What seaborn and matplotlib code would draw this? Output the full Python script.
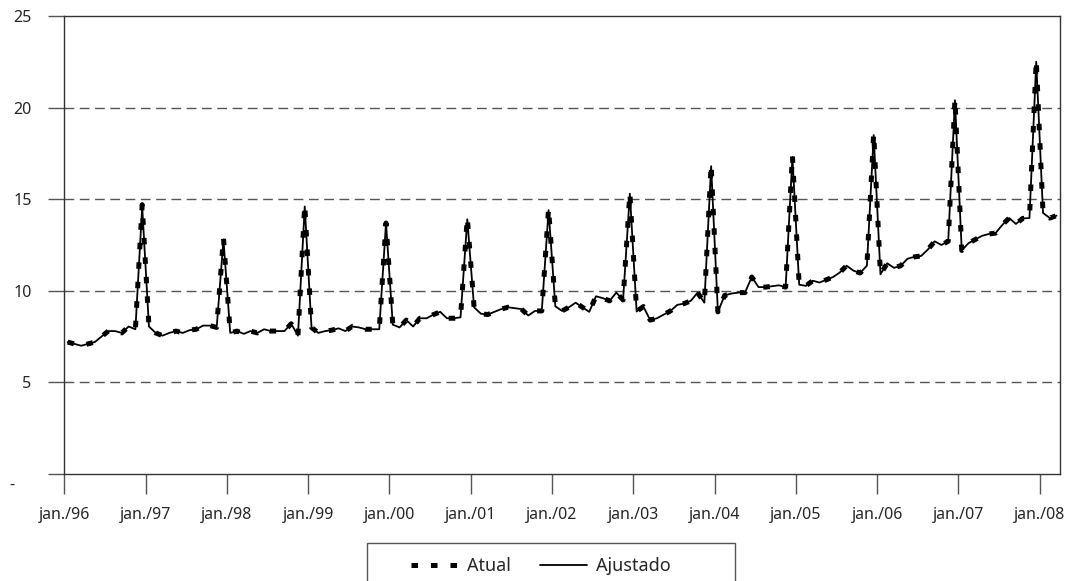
import matplotlib
matplotlib.use("Agg")
import matplotlib.pyplot as plt
import seaborn as sns
import pandas as pd
from matplotlib.patches import Rectangle
from matplotlib.transforms import ScaledTranslation

# ---- data (monthly, jan/96 .. mar/08) ----
years = ["96", "97", "98", "99", "00", "01", "02", "03", "04", "05", "06", "07", "08"]
tick_labels = [f"jan./{y}" for y in years]
y_ticks = [0, 5, 10, 15, 20, 25]
y_tick_labels = ["-", "5", "10", "15", "20", "25"]

atual = [
    # 1996
    7.2, 7.1, 7.0, 7.1, 7.2, 7.5, 7.8, 7.8, 7.7, 8.05, 7.9, 14.7,
    # 1997
    8.05, 7.7, 7.55, 7.7, 7.8, 7.7, 7.85, 7.9, 8.1, 8.1, 8.0, 12.9,
    # 1998
    7.7, 7.8, 7.65, 7.8, 7.7, 7.9, 7.8, 7.8, 7.8, 8.2, 7.55, 14.7,
    # 1999
    8.0, 7.7, 7.8, 7.85, 7.95, 7.8, 8.05, 8.0, 7.9, 7.9, 7.9, 13.7,
    # 2000
    8.15, 8.0, 8.4, 8.05, 8.5, 8.5, 8.7, 8.85, 8.5, 8.5, 8.55, 14.0,
    # 2001
    9.1, 8.75, 8.7, 8.85, 9.0, 9.1, 9.05, 9.0, 8.65, 8.9, 8.9, 14.5,
    # 2002
    9.15, 8.9, 9.1, 9.35, 9.1, 8.85, 9.7, 9.6, 9.45, 9.9, 9.5, 15.35,
    # 2003
    8.87, 9.14, 8.4, 8.5, 8.7, 8.9, 9.23, 9.3, 9.45, 9.9, 9.35, 16.9,
    # 2004
    8.85, 9.75, 9.85, 9.9, 9.9, 10.75, 10.2, 10.2, 10.25, 10.3, 10.2, 17.4,
    # 2005
    10.33, 10.27, 10.55, 10.45, 10.6, 10.75, 11.0, 11.37, 11.1, 10.97, 11.37, 18.6,
    # 2006
    10.9, 11.5, 11.25, 11.37, 11.75, 11.85, 11.9, 12.25, 12.7, 12.5, 12.7, 20.47,
    # 2007
    12.2, 12.6, 12.8, 13.0, 13.1, 13.15, 13.6, 13.97, 13.65, 13.95, 13.97, 22.6,
    # 2008
    14.25, 13.97, 14.1,
]

ajustado = [
    7.2, 7.1, 7.0, 7.1, 7.2, 7.5, 7.8, 7.8, 7.7, 8.05, 7.9, 14.6,
    8.05, 7.7, 7.55, 7.7, 7.8, 7.7, 7.85, 7.9, 8.1, 8.1, 8.0, 12.8,
    7.7, 7.8, 7.65, 7.8, 7.7, 7.9, 7.8, 7.8, 7.8, 8.2, 7.55, 14.6,
    8.0, 7.7, 7.8, 7.85, 7.95, 7.8, 8.05, 8.0, 7.9, 7.9, 7.9, 13.7,
    8.15, 8.0, 8.4, 8.05, 8.5, 8.5, 8.7, 8.85, 8.5, 8.5, 8.55, 13.9,
    9.1, 8.75, 8.7, 8.85, 9.0, 9.1, 9.05, 9.0, 8.65, 8.9, 8.9, 14.4,
    9.15, 8.9, 9.1, 9.35, 9.1, 8.85, 9.7, 9.6, 9.45, 9.9, 9.5, 15.3,
    8.87, 9.14, 8.4, 8.5, 8.7, 8.9, 9.23, 9.3, 9.45, 9.9, 9.35, 16.8,
    8.85, 9.75, 9.85, 9.9, 9.9, 10.75, 10.2, 10.2, 10.25, 10.3, 10.2, 17.3,
    10.33, 10.27, 10.55, 10.45, 10.6, 10.75, 11.0, 11.37, 11.1, 10.97, 11.37, 18.5,
    10.9, 11.5, 11.25, 11.37, 11.75, 11.85, 11.9, 12.25, 12.7, 12.5, 12.7, 20.4,
    12.2, 12.6, 12.8, 13.0, 13.1, 13.15, 13.6, 13.97, 13.65, 13.95, 13.97, 22.5,
    14.25, 13.97, 14.1,
]

month_idx = list(range(len(atual)))
df = pd.DataFrame({"mes": month_idx, "Atual": atual, "Ajustado": ajustado})

# ---- style ----
sns.set_style("white")
plt.rcParams["font.family"] = ["Noto Sans", "DejaVu Sans"]

fig = plt.figure(figsize=(10.75, 5.81), dpi=100)
ax = fig.add_axes([0.0598, 0.1842, 0.9262, 0.7883])

sns.lineplot(data=df, x="mes", y="Atual", ax=ax, color="black", lw=3.6,
             label="Atual", zorder=3)
sns.lineplot(data=df, x="mes", y="Ajustado", ax=ax, color="black", lw=1.3,
             label="Ajustado", zorder=4)
ax.lines[0].set_linestyle((0, (1.3, 2.6)))
ax.lines[0].set_dash_capstyle("butt")

ax.set_xlim(-0.5, len(atual) - 0.5)
ax.set_ylim(0, 25)

# gridlines (dashed) at 5..20
for v in [5, 10, 15, 20]:
    ax.axhline(v, color="#555555", lw=1.0, ls=(0, (7, 4)), zorder=1)

ax.set_yticks(y_ticks)
ax.set_yticklabels(y_tick_labels)
ax.set_xticks([12 * i - 0.5 for i in range(len(tick_labels))])
ax.set_xticklabels(tick_labels)

ax.tick_params(axis="y", which="major", direction="out", length=11.5, width=1,
               color="#555555", pad=12, labelsize=11.5, left=True)
ax.tick_params(axis="x", which="major", direction="out", length=14.5, width=1,
               color="#555555", pad=9, labelsize=11.5, bottom=True)

for s in ax.spines.values():
    s.set_visible(True)
    s.set_color("#333333")
    s.set_linewidth(1.0)

ax.set_xlabel("")
ax.set_ylabel("")

# shift the "-" zero label like the accounting format
zero_lbl = ax.get_yticklabels()[0]
zero_lbl.set_transform(zero_lbl.get_transform() +
                       ScaledTranslation(-0.175, -0.09, fig.dpi_scale_trans))

# legend
ax.get_legend().remove()
handles = ax.lines[:2]
leg = fig.legend(handles, ["Atual", "Ajustado"], loc="center left",
                 bbox_to_anchor=(411 / 1075, 1 - 566 / 581), ncol=2,
                 frameon=False, fontsize=13, handlelength=2.6,
                 columnspacing=1.6, borderpad=0.0, borderaxespad=0.0,
                 handletextpad=0.5)
fig.patches.append(Rectangle((367 / 1075, -0.05), 368 / 1075, 0.05 + 1 - 543 / 581,
                             transform=fig.transFigure, fill=False,
                             edgecolor="#555555", lw=1.0))

fig.savefig("out.png", dpi=100)
